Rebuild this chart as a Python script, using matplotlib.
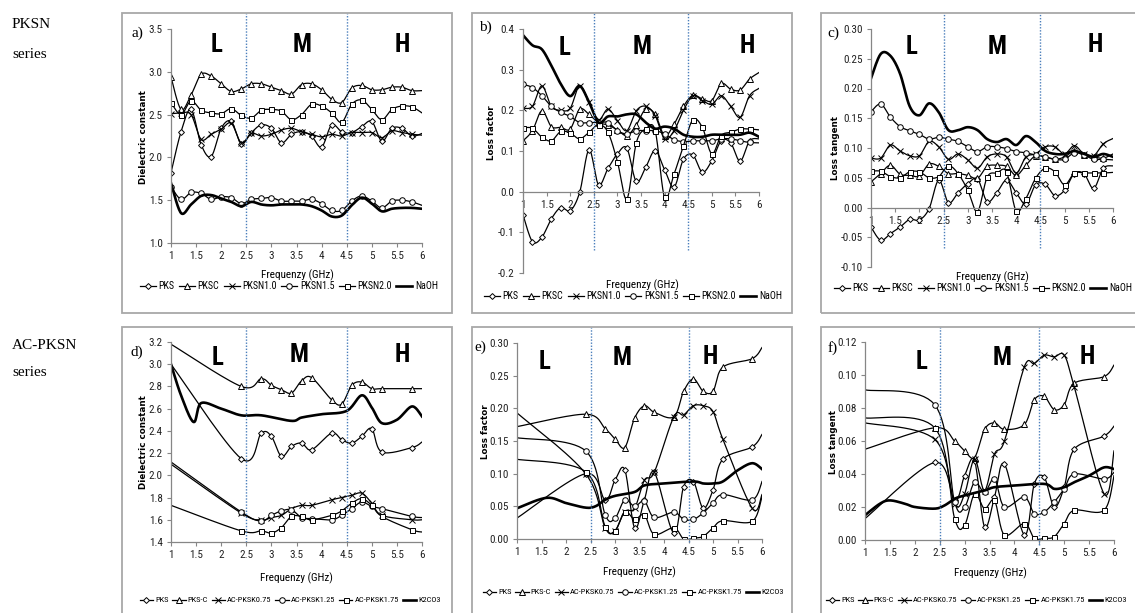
import numpy as np
import matplotlib
matplotlib.use('Agg')
import matplotlib.pyplot as plt
from matplotlib.patches import Rectangle
from matplotlib.ticker import MultipleLocator, FormatStrFormatter, FuncFormatter
from matplotlib.transforms import blended_transform_factory

# ---------------- data ----------------
# PKSN series (0.2 GHz steps)
freq = [1.0, 1.2, 1.4, 1.6, 1.8, 2.0, 2.2, 2.4, 2.6, 2.8, 3.0, 3.2, 3.4,
        3.6, 3.8, 4.0, 4.2, 4.4, 4.6, 4.8, 5.0, 5.2, 5.4, 5.6, 5.8, 6.0]
names_top = ['PKS', 'PKSC', 'PKSN1.0', 'PKSN1.5', 'PKSN2.0', 'NaOH']

# a) dielectric constant
a_pks = [1.82, 2.30, 2.56, 2.15, 2.01, 2.34, 2.42, 2.16, 2.29, 2.38, 2.34, 2.17, 2.27,
         2.30, 2.25, 2.12, 2.38, 2.30, 2.29, 2.36, 2.42, 2.19, 2.34, 2.34, 2.25, 2.28]
a_pksc = [2.94, 2.56, 2.73, 2.97, 2.95, 2.86, 2.77, 2.80, 2.86, 2.86, 2.82, 2.78, 2.74,
          2.85, 2.86, 2.79, 2.68, 2.64, 2.81, 2.84, 2.79, 2.79, 2.82, 2.82, 2.78, 2.78]
a_n10 = [2.51, 2.52, 2.50, 2.21, 2.27, 2.33, 2.40, 2.17, 2.28, 2.25, 2.27, 2.32, 2.34,
         2.30, 2.27, 2.24, 2.27, 2.25, 2.29, 2.29, 2.29, 2.23, 2.31, 2.29, 2.27, 2.26]
a_n15 = [1.66, 1.51, 1.59, 1.58, 1.51, 1.54, 1.53, 1.46, 1.51, 1.52, 1.53, 1.49, 1.49,
         1.49, 1.51, 1.46, 1.38, 1.38, 1.49, 1.55, 1.49, 1.41, 1.49, 1.50, 1.48, 1.44]
a_n20 = [2.64, 2.50, 2.66, 2.55, 2.52, 2.51, 2.57, 2.49, 2.46, 2.55, 2.56, 2.54, 2.44,
         2.50, 2.62, 2.60, 2.52, 2.41, 2.62, 2.67, 2.56, 2.44, 2.56, 2.60, 2.59, 2.52]
a_naoh = [1.70, 1.35, 1.45, 1.55, 1.56, 1.52, 1.48, 1.43, 1.48, 1.45, 1.44, 1.45, 1.45,
          1.45, 1.43, 1.38, 1.31, 1.32, 1.44, 1.53, 1.46, 1.37, 1.40, 1.41, 1.41, 1.40]

# b) loss factor
b_pks = [-0.057, -0.123, -0.112, -0.067, -0.039, -0.047, -0.002, 0.103, 0.017, 0.057, 0.093, 0.107, 0.025,
         0.060, 0.101, 0.054, 0.011, 0.080, 0.090, 0.048, 0.076, 0.125, 0.120, 0.075, 0.125, 0.130]
b_pksc = [0.125, 0.150, 0.199, 0.160, 0.158, 0.154, 0.203, 0.190, 0.170, 0.164, 0.152, 0.138, 0.164,
          0.203, 0.190, 0.138, 0.166, 0.210, 0.237, 0.228, 0.224, 0.266, 0.252, 0.250, 0.277, 0.293]
b_n10 = [0.205, 0.210, 0.260, 0.210, 0.200, 0.205, 0.260, 0.220, 0.177, 0.203, 0.175, 0.150, 0.199,
         0.210, 0.187, 0.130, 0.150, 0.200, 0.236, 0.224, 0.215, 0.236, 0.210, 0.183, 0.236, 0.254]
b_n15 = [0.264, 0.256, 0.236, 0.210, 0.195, 0.185, 0.170, 0.170, 0.170, 0.170, 0.150, 0.142, 0.150,
         0.150, 0.150, 0.142, 0.128, 0.123, 0.125, 0.125, 0.125, 0.130, 0.130, 0.125, 0.121, 0.120]
b_n20 = [0.157, 0.156, 0.134, 0.125, 0.148, 0.144, 0.130, 0.146, 0.165, 0.146, 0.074, -0.018, 0.120,
         0.154, 0.150, -0.014, 0.043, 0.113, 0.177, 0.158, 0.093, 0.138, 0.146, 0.154, 0.154, 0.152]
b_naoh = [0.385, 0.360, 0.350, 0.310, 0.265, 0.235, 0.260, 0.220, 0.170, 0.185, 0.185, 0.190, 0.190,
          0.170, 0.155, 0.160, 0.155, 0.140, 0.135, 0.135, 0.140, 0.140, 0.140, 0.140, 0.145, 0.135]

# c) loss tangent
c_pks = [-0.033, -0.055, -0.044, -0.033, -0.020, -0.021, -0.002, 0.046, 0.008, 0.025, 0.040, 0.048, 0.010,
         0.025, 0.046, 0.025, 0.006, 0.038, 0.039, 0.020, 0.029, 0.057, 0.057, 0.032, 0.066, 0.070]
c_pksc = [0.043, 0.057, 0.071, 0.056, 0.054, 0.053, 0.073, 0.069, 0.057, 0.057, 0.054, 0.049, 0.069,
          0.071, 0.069, 0.054, 0.071, 0.087, 0.085, 0.081, 0.085, 0.095, 0.088, 0.085, 0.083, 0.090]
c_n10 = [0.083, 0.083, 0.105, 0.095, 0.087, 0.087, 0.111, 0.102, 0.081, 0.090, 0.080, 0.066, 0.085,
         0.090, 0.085, 0.058, 0.085, 0.090, 0.102, 0.102, 0.090, 0.104, 0.090, 0.087, 0.107, 0.116]
c_n15 = [0.161, 0.174, 0.152, 0.136, 0.129, 0.123, 0.115, 0.118, 0.115, 0.111, 0.102, 0.094, 0.102,
         0.102, 0.099, 0.094, 0.092, 0.088, 0.085, 0.081, 0.081, 0.092, 0.088, 0.081, 0.081, 0.080]
c_n20 = [0.061, 0.061, 0.052, 0.050, 0.060, 0.060, 0.050, 0.052, 0.070, 0.057, 0.029, -0.007, 0.051,
         0.058, 0.060, -0.006, 0.015, 0.049, 0.066, 0.060, 0.038, 0.058, 0.058, 0.058, 0.058, 0.059]
c_naoh = [0.217, 0.258, 0.255, 0.225, 0.170, 0.155, 0.175, 0.160, 0.130, 0.130, 0.135, 0.130, 0.115,
          0.110, 0.115, 0.105, 0.120, 0.110, 0.095, 0.090, 0.090, 0.095, 0.090, 0.085, 0.090, 0.085]

# AC-PKSN series
freq2 = [1.0, 2.4, 2.8, 3.0, 3.2, 3.4, 3.6, 3.8, 4.2, 4.4, 4.6, 4.8, 5.0, 5.2, 5.8, 6.0]
names_bot = ['PKS', 'PKS-C', 'AC-PKSK0.75', 'AC-PKSK1.25', 'AC-PKSK1.75', 'K2CO3']

# d) dielectric constant
d_pks = [3.00, 2.15, 2.38, 2.35, 2.17, 2.26, 2.29, 2.23, 2.38, 2.32, 2.29, 2.35, 2.42, 2.21, 2.25, 2.30]
d_pksc = [3.18, 2.80, 2.87, 2.81, 2.77, 2.74, 2.85, 2.88, 2.68, 2.64, 2.81, 2.84, 2.78, 2.78, 2.78, 2.78]
d_k075 = [2.10, 1.66, 1.60, 1.62, 1.64, 1.70, 1.73, 1.73, 1.78, 1.80, 1.82, 1.84, 1.75, 1.64, 1.60, 1.60]
d_k125 = [2.12, 1.67, 1.59, 1.64, 1.68, 1.69, 1.62, 1.61, 1.60, 1.64, 1.70, 1.76, 1.72, 1.70, 1.63, 1.62]
d_k175 = [1.73, 1.50, 1.50, 1.48, 1.53, 1.63, 1.63, 1.60, 1.64, 1.68, 1.75, 1.79, 1.73, 1.63, 1.51, 1.49]
kx_d = [1.0, 1.2, 1.45, 1.6, 2.0, 2.4, 2.8, 3.4, 3.6, 4.0, 4.5, 4.8, 5.0, 5.2, 5.5, 5.8, 6.0]
d_k2 = [3.00, 2.72, 2.48, 2.65, 2.60, 2.54, 2.54, 2.49, 2.52, 2.55, 2.58, 2.72, 2.61, 2.47, 2.50, 2.62, 2.53]

# e) loss factor
e_pks = [0.032, 0.100, 0.060, 0.090, 0.106, 0.017, 0.060, 0.102, 0.009, 0.080, 0.088, 0.047, 0.075, 0.122, 0.141, 0.160]
e_pksc = [0.172, 0.191, 0.169, 0.153, 0.140, 0.185, 0.204, 0.194, 0.187, 0.226, 0.245, 0.226, 0.226, 0.263, 0.276, 0.293]
e_k075 = [0.193, 0.100, 0.017, 0.013, 0.042, 0.047, 0.090, 0.102, 0.187, 0.190, 0.204, 0.204, 0.195, 0.153, 0.047, 0.068]
e_k125 = [0.155, 0.135, 0.037, 0.032, 0.060, 0.050, 0.058, 0.033, 0.041, 0.030, 0.030, 0.040, 0.055, 0.068, 0.060, 0.088]
e_k175 = [0.122, 0.103, 0.019, 0.012, 0.042, 0.030, 0.037, 0.007, 0.017, 0.000, 0.001, 0.004, 0.017, 0.028, 0.027, 0.065]
kx_e = [1.0, 1.6, 2.0, 2.4, 2.6, 2.8, 3.0, 3.4, 3.6, 4.0, 4.6, 4.8, 5.0, 5.2, 5.5, 5.8, 6.0]
e_k2 = [0.047, 0.063, 0.055, 0.048, 0.050, 0.060, 0.066, 0.072, 0.082, 0.085, 0.088, 0.085, 0.085, 0.088, 0.105, 0.116, 0.107]

# f) loss tangent
f_pks = [0.013, 0.047, 0.024, 0.039, 0.048, 0.008, 0.026, 0.046, 0.003, 0.034, 0.038, 0.020, 0.032, 0.055, 0.063, 0.069]
f_pksc = [0.055, 0.068, 0.060, 0.054, 0.050, 0.067, 0.071, 0.067, 0.070, 0.085, 0.087, 0.079, 0.082, 0.095, 0.099, 0.106]
f_k075 = [0.071, 0.061, 0.022, 0.028, 0.049, 0.030, 0.052, 0.060, 0.105, 0.107, 0.112, 0.111, 0.112, 0.093, 0.028, 0.054]
f_k125 = [0.091, 0.082, 0.023, 0.020, 0.035, 0.029, 0.037, 0.020, 0.026, 0.016, 0.017, 0.023, 0.031, 0.040, 0.037, 0.041]
f_k175 = [0.074, 0.068, 0.013, 0.009, 0.028, 0.019, 0.024, 0.003, 0.010, 0.001, 0.001, 0.002, 0.010, 0.018, 0.018, 0.039]
kx_f = [1.0, 1.3, 1.5, 1.8, 2.0, 2.4, 2.6, 2.8, 3.0, 3.4, 3.6, 4.0, 4.6, 4.8, 5.0, 5.2, 5.5, 5.8, 6.0]
f_k2 = [0.015, 0.022, 0.024, 0.022, 0.020, 0.019, 0.021, 0.025, 0.027, 0.030, 0.032, 0.033, 0.034, 0.031, 0.032, 0.035, 0.039, 0.044, 0.043]

# ---------------- style ----------------
W, H = 1135, 613
# first installed family wins; a narrow face is what the original uses
NARROW = ['Liberation Sans Narrow', 'DejaVu Sans Condensed', 'Roboto Condensed', 'Liberation Sans']
SERIF = ['Liberation Serif', 'DejaVu Serif']
AXC = '#868686'
BLUE = '#4a7ebb'
MARKERS = [('D', 3.0), ('^', 4.0), ('x', 3.8), ('o', 4.0), ('s', 3.6)]


def fig_xy(x, y):
    # pixel position in the picture -> figure fraction
    return x / W, 1 - y / H


def smooth(x, y, n=16):
    # Catmull-Rom curve through the points (Excel "smoothed line")
    p = np.column_stack([x, y]).astype(float)
    p = np.vstack([p[0], p, p[-1]])
    t = np.linspace(0, 1, n, endpoint=False)[:, None]
    out = []
    for i in range(1, len(p) - 2):
        p0, p1, p2, p3 = p[i - 1], p[i], p[i + 1], p[i + 2]
        seg = 0.5 * (2 * p1 + (-p0 + p2) * t + (2 * p0 - 5 * p1 + 4 * p2 - p3) * t ** 2
                     + (-p0 + 3 * p1 - 3 * p2 + p3) * t ** 3)
        out.append(seg)
    out.append(p[-2][None, :])
    s = np.vstack(out)
    return s[:, 0], s[:, 1]


fig = plt.figure(figsize=(W / 100, H / 100), dpi=100)

# panel frames
frames = [(122, 13, 452, 313), (472, 13, 792, 313), (821, 13, 1140, 313),
          (122, 327, 452, 625), (472, 327, 792, 625), (821, 327, 1140, 625)]
for x0, y0, x1, y1 in frames:
    fx0, fy1 = fig_xy(x0, y1)
    fig.patches.append(Rectangle((fx0, fy1), (x1 - x0) / W, (y1 - y0) / H,
                                 transform=fig.transFigure, fill=False,
                                 ec='#a8a8a8', lw=1.3))

# row labels
for txt, y in [('PKSN', 25), ('series', 55), ('AC-PKSN', 345), ('series', 372)]:
    fig.text(*fig_xy(12, y), txt, family=SERIF, fontsize=11, va='center', ha='left')

panels = [
    dict(tag='a)', box=(171, 29, 422, 243), x=freq, ys=[a_pks, a_pksc, a_n10, a_n15, a_n20],
         kx=freq, ky=a_naoh, names=names_top, ylim=(1.0, 3.5), step=0.5, fmt='%.1f',
         ylab='Dielectric constant', ylab_xy=(143, 137), xlab_xy=(297, 275), leg_xy=(289, 286),
         tag_xy=(137, 33), dot=(13, 240), lmh=[(217, 45), (302, 45), (402, 45)], zero=False),
    dict(tag='b)', box=(523, 29, 759, 273), x=freq, ys=[b_pks, b_pksc, b_n10, b_n15, b_n20],
         kx=freq, ky=b_naoh, names=names_top, ylim=(-0.2, 0.4), step=0.1, fmt='%.1f',
         ylab='Loss factor', ylab_xy=(492, 133), xlab_xy=(642, 285), leg_xy=(633, 296),
         tag_xy=(485, 27), dot=(13, 250), lmh=[(565, 48), (642, 47), (747, 46)], zero=True),
    dict(tag='c)', box=(871, 29, 1113, 267), x=freq, ys=[c_pks, c_pksc, c_n10, c_n15, c_n20],
         kx=freq, ky=c_naoh, names=names_top, ylim=(-0.1, 0.3), step=0.05, fmt='%.2f',
         ylab='Loss tangent', ylab_xy=(835, 148), xlab_xy=(992, 277), leg_xy=(983, 288),
         tag_xy=(833, 33), dot=(13, 248), lmh=[(912, 47), (997, 47), (1095, 45)], zero=True),
    dict(tag='d)', box=(171, 342, 422, 542), x=freq2, ys=[d_pks, d_pksc, d_k075, d_k125, d_k175],
         kx=kx_d, ky=d_k2, names=names_bot, ylim=(1.4, 3.2), step=0.2, fmt='%.1f',
         ylab='Dielectric constant', ylab_xy=(143, 442), xlab_xy=(296, 578), leg_xy=(290, 600),
         tag_xy=(137, 352), dot=(327, 542), lmh=[(218, 358), (299, 355), (402, 355)], zero=False),
    dict(tag='e)', box=(517, 343, 762, 539), x=freq2, ys=[e_pks, e_pksc, e_k075, e_k125, e_k175],
         kx=kx_e, ky=e_k2, names=names_bot, ylim=(0.0, 0.30), step=0.05, fmt='%.2f',
         ylab='Loss factor', ylab_xy=(485, 432), xlab_xy=(639, 572), leg_xy=(633, 592),
         tag_xy=(480, 347), dot=(327, 542), lmh=[(545, 362), (622, 358), (710, 357)], zero=False),
    dict(tag='f)', box=(865, 342, 1114, 540), x=freq2, ys=[f_pks, f_pksc, f_k075, f_k125, f_k175],
         kx=kx_f, ky=f_k2, names=names_bot, ylim=(0.0, 0.12), step=0.02, fmt='%.2f',
         ylab='Loss tangent', ylab_xy=(833, 442), xlab_xy=(990, 573), leg_xy=(976, 600),
         tag_xy=(833, 348), dot=(327, 545), lmh=[(922, 362), (1002, 358), (1087, 357)], zero=False),
]

for p in panels:
    l, t, r, b = p['box']
    ax = fig.add_axes([l / W, 1 - b / H, (r - l) / W, (b - t) / H])
    ax.set_xlim(1, 6)
    ax.set_ylim(*p['ylim'])
    ax.patch.set_alpha(0)

    x = p['x']
    # top row: markers on every point except 6 GHz; bottom row: not on first/last
    if x is freq:
        marked = list(range(len(x) - 1))
    else:
        marked = list(range(1, len(x) - 1))
    n = 16
    handles = []
    for ys, (mk, ms) in zip(p['ys'], MARKERS):
        sx, sy = smooth(x, ys, n)
        h, = ax.plot(sx, sy, color='black', lw=0.9, marker=mk, ms=ms,
                     markevery=[i * n for i in marked], mfc='white', mec='black',
                     mew=0.7)
        handles.append(h)
    sx, sy = smooth(p['kx'], p['ky'], n)
    h, = ax.plot(sx, sy, color='black', lw=1.9)
    handles.append(h)

    # axes look (Excel style)
    for side in ['top', 'right']:
        ax.spines[side].set_visible(False)
    for side in ['left', 'bottom']:
        ax.spines[side].set_color(AXC)
        ax.spines[side].set_linewidth(0.9)
    if p['zero']:
        ax.spines['bottom'].set_position(('data', 0))
    ax.xaxis.set_major_locator(MultipleLocator(0.5))
    ax.xaxis.set_major_formatter(FuncFormatter(lambda v, pos: '%g' % v))
    ax.yaxis.set_major_locator(MultipleLocator(p['step']))
    ax.yaxis.set_major_formatter(FormatStrFormatter(p['fmt']))
    ax.tick_params(length=3, width=0.8, color=AXC, labelsize=8, pad=3)
    for lab in ax.get_xticklabels() + ax.get_yticklabels():
        lab.set_family(NARROW)
        lab.set_color('#222222')

    # dotted region separators at 2.5 and 4.5 GHz
    tr = blended_transform_factory(ax.transData, fig.transFigure)
    for v in [2.5, 4.5]:
        ax.plot([v, v], [1 - p['dot'][1] / H, 1 - p['dot'][0] / H], transform=tr,
                color=BLUE, lw=1.0, ls=(0, (1, 1.2)), clip_on=False)

    # labels
    fig.text(*fig_xy(*p['tag_xy']), p['tag'], family=SERIF, fontsize=11, ha='center', va='center')
    fig.text(*fig_xy(*p['ylab_xy']), p['ylab'], fontsize=6.3, fontweight='bold',
             rotation=90, ha='center', va='center')
    fig.text(*fig_xy(*p['xlab_xy']), 'Frequenzy (GHz)', family=NARROW, fontsize=8,
             ha='center', va='center')
    for txt, xy in zip(['L', 'M', 'H'], p['lmh']):
        fig.text(*fig_xy(*xy), txt, family=NARROW, fontsize=18, fontweight='bold',
                 ha='center', va='center')

    fsize = 7.2 if x is freq else 6.0
    fig.legend(handles, p['names'], loc='center', bbox_to_anchor=fig_xy(*p['leg_xy']),
               ncol=6, frameon=False, handlelength=1.6, handletextpad=0.25,
               columnspacing=0.45, borderpad=0, prop={'family': NARROW, 'size': fsize})

fig.savefig('out.png', dpi=100)
